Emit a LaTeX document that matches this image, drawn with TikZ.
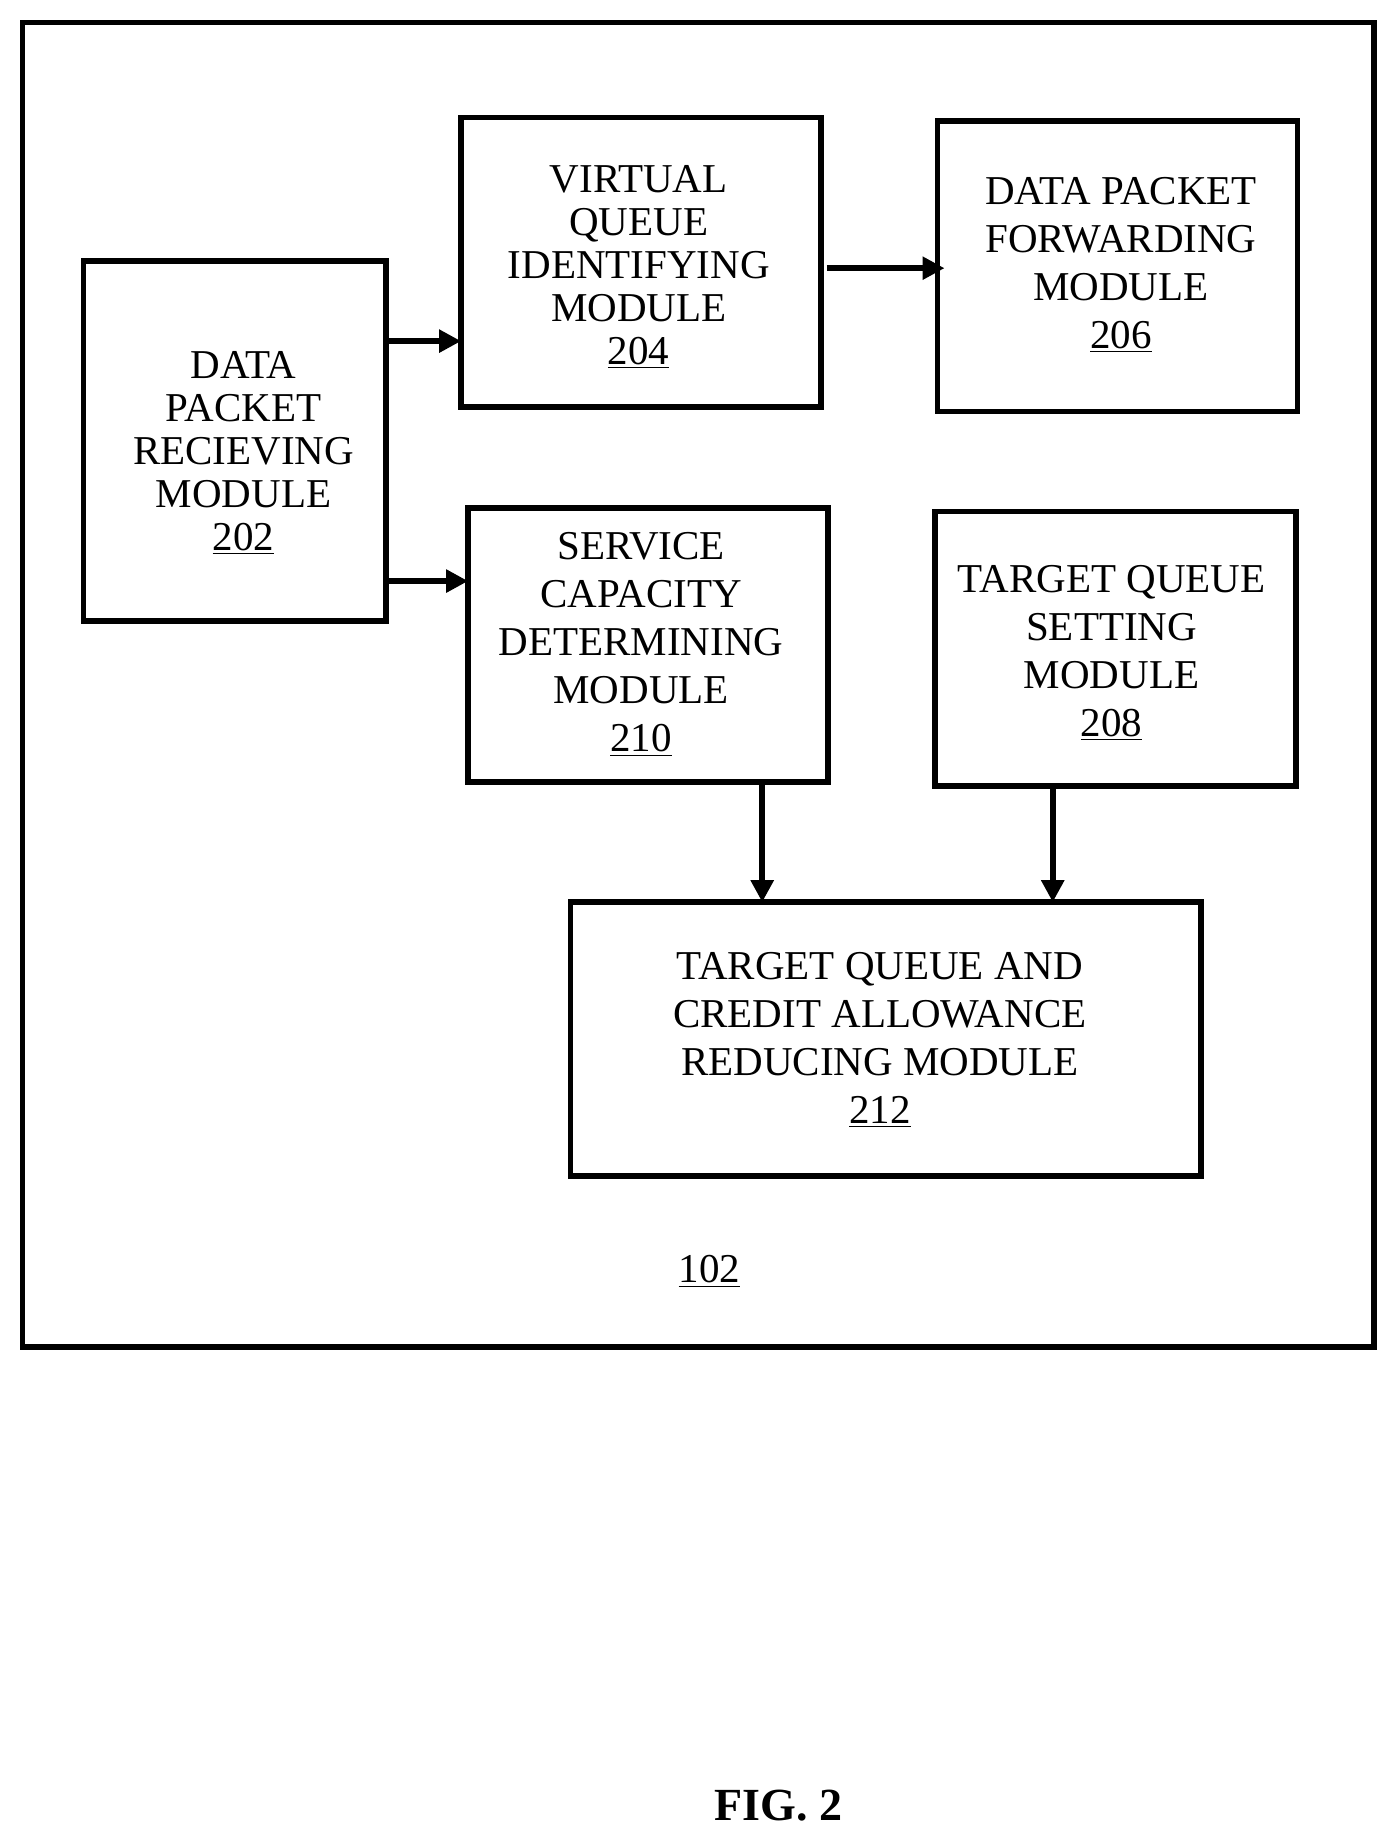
\documentclass[tikz,border=0pt]{standalone}
\usepackage{fontspec}
\setmainfont{Liberation Serif}
\usetikzlibrary{arrows.meta}
\begin{document}
\begin{tikzpicture}[x=0.5882pt,y=-0.5882pt,
  box/.style={draw,line width=2.8pt},
  txt/.style={align=center,font=\fontsize{20.5}{21.5}\selectfont,inner sep=0pt},
  arr/.style={line width=3pt,-{Triangle[length=11pt,width=11pt]}}]
\useasboundingbox (0,0) rectangle (1185,1566);
\draw[box] (19,19) rectangle (1168,1145);
\draw[box] (71,222) rectangle (328,528);
\draw[box] (392,100) rectangle (698,346);
\draw[box] (797,103) rectangle (1103,350);
\draw[box] (398,432) rectangle (704,665);
\draw[box] (795,435) rectangle (1102,668);
\draw[box] (485,767) rectangle (1021,1000);
\node[txt] (t202) at (207,385) {DATA\\PACKET\\RECIEVING\\MODULE\\\underline{202}};
\node[txt] (t204) at (543,227) {VIRTUAL\\QUEUE\\IDENTIFYING\\MODULE\\\underline{204}};
\node[txt,font=\fontsize{20.5}{24}\selectfont] (t206) at (953,225) {DATA PACKET\\FORWARDING\\MODULE\\\underline{206}};
\node[txt,font=\fontsize{20.5}{24}\selectfont] (t210) at (545,548) {SERVICE\\CAPACITY\\DETERMINING\\MODULE\\\underline{210}};
\node[txt,font=\fontsize{20.5}{24}\selectfont] (t208) at (945,555) {TARGET QUEUE\\SETTING\\MODULE\\\underline{208}};
\node[txt,font=\fontsize{20.5}{24}\selectfont] (t212) at (748,884) {TARGET QUEUE AND\\CREDIT ALLOWANCE\\REDUCING MODULE\\\underline{212}};
\node[txt] (t102) at (603,1081) {\underline{102}};
\node[txt,font=\bfseries\fontsize{23}{26}\selectfont] (fig) at (662,1535) {FIG. 2};
\coordinate (s1) at (328,290); \coordinate (e1) at (392,290);
\coordinate (s2) at (328,494); \coordinate (e2) at (398,494);
\coordinate (s3) at (703,228); \coordinate (e3) at (803,228);
\coordinate (s4) at (648,665); \coordinate (e4) at (648,767);
\coordinate (s5) at (895,668); \coordinate (e5) at (895,767);
\draw[arr] (s1) -- (e1);
\draw[arr] (s2) -- (e2);
\draw[arr] (s3) -- (e3);
\draw[arr] (s4) -- (e4);
\draw[arr] (s5) -- (e5);
\end{tikzpicture}
\end{document}
